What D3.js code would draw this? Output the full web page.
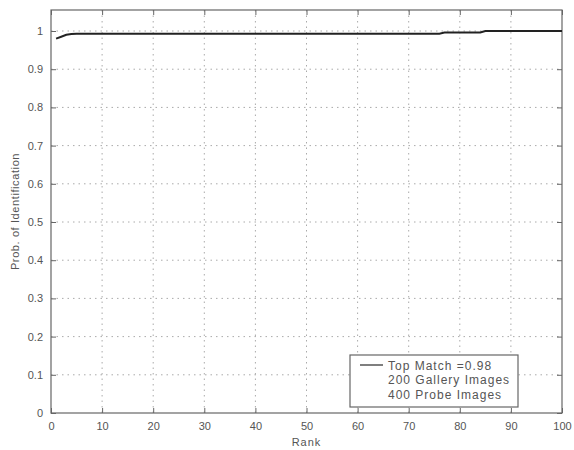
<!DOCTYPE html>
<html>
<head>
<meta charset="utf-8">
<script src="https://cdn.jsdelivr.net/npm/d3@7"></script>
<style>
  body { margin: 0; background: #fff; }
  text { font-family: "Liberation Sans", Arial, sans-serif; }
</style>
</head>
<body>
<div id="chart"></div>
<script>

// curve
var ranks = [1, 2, 3, 4, 5, 10, 20, 30, 40, 50, 60, 70, 76, 77, 84, 85, 90, 100];
var probs = [0.98, 0.985, 0.99, 0.992, 0.993, 0.993, 0.993, 0.993, 0.993, 0.993, 0.993, 0.993, 0.993, 0.996, 0.996, 1.0, 1.0, 1.0];

var xTicks = [0, 10, 20, 30, 40, 50, 60, 70, 80, 90, 100];
var yTicks = [0, 0.1, 0.2, 0.3, 0.4, 0.5, 0.6, 0.7, 0.8, 0.9, 1];
var yTickLabels = ["0", "0.1", "0.2", "0.3", "0.4", "0.5", "0.6", "0.7", "0.8", "0.9", "1"];

var legendLines = ["Top Match =0.98", "200 Gallery Images", "400 Probe Images"];

var margin = {top: 10, right: 12, bottom: 37, left: 51},
    width = 574 - margin.left - margin.right,
    height = 450 - margin.top - margin.bottom;

var svg = d3.select("#chart").append("svg")
    .attr("width", 574)
    .attr("height", 450);

var g = svg.append("g")
    .attr("transform", "translate(" + margin.left + "," + margin.top + ")");

var x = d3.scaleLinear().domain([0, 100]).range([0, width]);
var y = d3.scaleLinear().domain([0, 1.055]).range([height, 0]);

// grid
g.append("g").selectAll("line")
    .data(xTicks.slice(1, -1))
    .enter().append("line")
    .attr("x1", function(d){ return x(d); })
    .attr("x2", function(d){ return x(d); })
    .attr("y1", 0).attr("y2", height)
    .attr("stroke", "#aaa").attr("stroke-dasharray", "1.5,4");

g.append("g").selectAll("line")
    .data(yTicks.slice(1))
    .enter().append("line")
    .attr("y1", function(d){ return y(d); })
    .attr("y2", function(d){ return y(d); })
    .attr("x1", 0).attr("x2", width)
    .attr("stroke", "#aaa").attr("stroke-dasharray", "1.5,4");

// axes
var axisColor = "#666";
var xb = g.append("g").attr("transform", "translate(0," + height + ")")
    .call(d3.axisBottom(x).tickValues(xTicks).tickSizeInner(-5).tickSizeOuter(0).tickPadding(9));
var xt = g.append("g")
    .call(d3.axisTop(x).tickValues(xTicks).tickSizeInner(-5).tickSizeOuter(0).tickFormat(""));
var yl = g.append("g")
    .call(d3.axisLeft(y).tickValues(yTicks).tickSizeInner(-5).tickSizeOuter(0).tickPadding(8)
        .tickFormat(function(d, i){ return yTickLabels[i]; }));
var yr = g.append("g").attr("transform", "translate(" + width + ",0)")
    .call(d3.axisRight(y).tickValues(yTicks).tickSizeInner(-5).tickSizeOuter(0).tickFormat(""));

[xb, xt, yl, yr].forEach(function(a){
    a.selectAll("path").remove();
    a.selectAll("line").attr("stroke", axisColor);
    a.selectAll("text").attr("fill", "#555").style("font-size", "11px");
});

g.append("rect")
    .attr("width", width).attr("height", height)
    .attr("fill", "none").attr("stroke", axisColor).attr("stroke-width", 1.2);

// curve
var line = d3.line()
    .x(function(d, i){ return x(ranks[i]); })
    .y(function(d){ return y(d); });

g.append("path")
    .datum(probs)
    .attr("d", line)
    .attr("fill", "none")
    .attr("stroke", "#222")
    .attr("stroke-width", 2);

// labels
g.append("text")
    .attr("x", width / 2).attr("y", height + 33)
    .attr("text-anchor", "middle")
    .attr("fill", "#555").style("font-size", "11px").style("letter-spacing", "1px")
    .text("Rank");

g.append("text")
    .attr("transform", "translate(-32," + (height / 2) + ") rotate(-90)")
    .attr("text-anchor", "middle")
    .attr("fill", "#555").style("font-size", "11px").style("letter-spacing", "0.6px")
    .text("Prob. of Identification");

// legend
var lg = g.append("g").attr("transform", "translate(" + (350 - margin.left) + "," + (355 - margin.top) + ")");
lg.append("rect")
    .attr("width", 168).attr("height", 52)
    .attr("fill", "#fff").attr("stroke", axisColor).attr("stroke-width", 1.2);
lg.append("line")
    .attr("x1", 10).attr("x2", 33).attr("y1", 10).attr("y2", 10)
    .attr("stroke", "#555").attr("stroke-width", 1.5);
lg.selectAll("text.leg")
    .data(legendLines)
    .enter().append("text")
    .attr("class", "leg")
    .attr("x", 38)
    .attr("y", function(d, i){ return 15 + i * 14.3; })
    .attr("fill", "#555").style("font-size", "12px").style("letter-spacing", "1px")
    .text(function(d){ return d; });

</script>
</body>
</html>
